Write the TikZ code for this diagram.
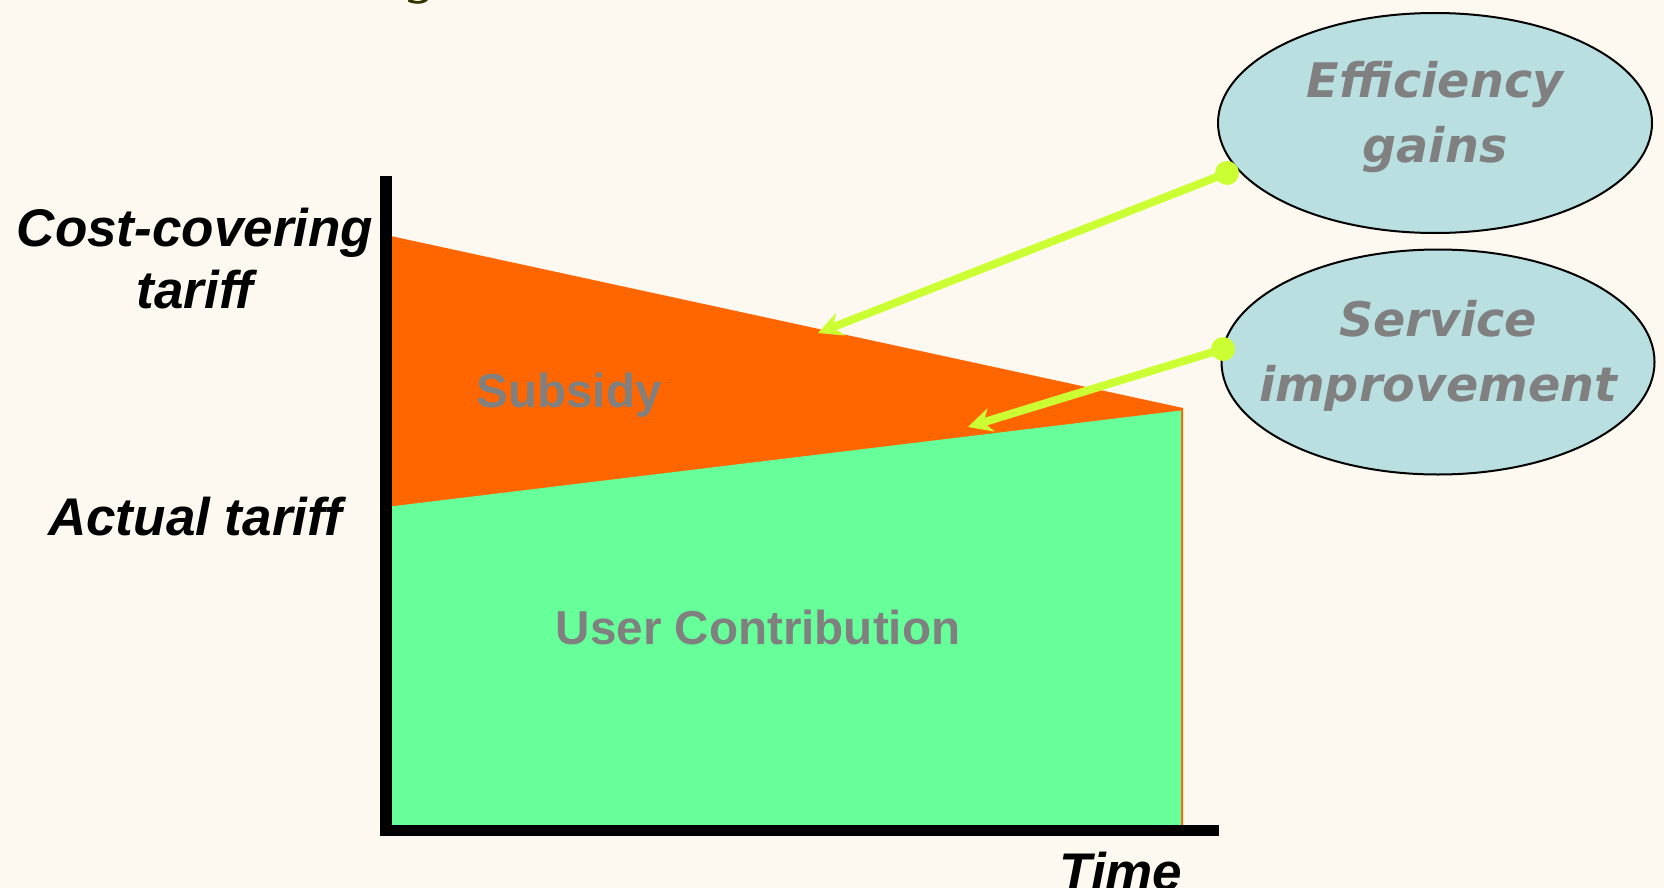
\documentclass[tikz,border=0pt]{standalone}
\usepackage{fontspec}
\setmainfont{Liberation Sans}
\newfontfamily\ovalfont{DejaVu Sans}[BoldFont={DejaVu Sans Bold}, ItalicFont={DejaVu Sans Oblique}, BoldItalicFont={DejaVu Sans Bold Oblique}]
\newfontfamily\titlefont{Liberation Serif}
\usetikzlibrary{shapes.geometric,arrows.meta}

\definecolor{paper}{RGB}{253,248,240}
\definecolor{subsidyOrange}{RGB}{255,102,0}
\definecolor{userGreen}{RGB}{102,255,153}
\definecolor{ovalBlue}{RGB}{185,223,225}
\definecolor{pointerLime}{RGB}{204,255,51}
\definecolor{labelGray}{RGB}{128,128,128}
\definecolor{titleOlive}{RGB}{51,51,0}

\tikzset{every picture/.style={x=0.5pt, y=-0.5pt},
        axisLine/.style={line width=5.75pt, black},
        axisLabel/.style={font=\fontsize{26.5}{31}\selectfont\bfseries\itshape, align=center, text=black},
        areaLabel/.style={font=\fontsize{23.8}{28}\selectfont\bfseries, text=labelGray, anchor=base},
        oval/.style={ellipse, draw=black, line width=1pt, fill=ovalBlue, inner sep=0pt},
        ovalText/.style={font=\ovalfont\fontsize{23.8}{32.5}\selectfont\bfseries\itshape, text=labelGray, align=center, yshift=3pt},
        dot/.style={circle, fill=pointerLime, inner sep=0pt, minimum size=12pt},
        pointer/.style={pointerLime, line width=4pt, -{Stealth[length=12pt, width=12pt, inset=4pt]}}}

\begin{document}
\begin{tikzpicture}

% background and page size
\fill[paper] (0,0) rectangle (1664,888);
\useasboundingbox (0,0) rectangle (1664,888);

% tail of the cut off title
\node[font=\titlefont\fontsize{30}{30}\selectfont\itshape, text=titleOlive, anchor=base] (titleG) at (423,-8) {g};

% draw areas
\fill[subsidyOrange] (386,235) -- (1183,408) -- (1183,826) -- (386,826) -- cycle;
\fill[userGreen] (386,507) -- (1181,410.5) -- (1181,826) -- (386,826) -- cycle;

% draw axis
\draw[axisLine] (386,176) -- (386,836);
\draw[axisLine] (385,830.5) -- (1219,830.5);

% axis labels
\node[axisLabel] (costTariff) at (195,259) {Cost-covering\\tariff};
\node[axisLabel, anchor=base] (actualTariff) at (195,535) {Actual tariff};
\node[axisLabel, anchor=base] (timeLabel) at (1121,890) {Time};

% area labels
\node[areaLabel] (subsidy) at (569,407) {Subsidy};
\node[areaLabel] (userContrib) at (758,644) {User Contribution};

% draw ovals
\node[oval, minimum width=217pt, minimum height=110pt] (eff) at (1435,123) {};
\node[ovalText] (effText) at (eff) {Efficiency\\gains};
\node[oval, minimum width=216.5pt, minimum height=112.5pt] (serv) at (1438,362) {};
\node[ovalText] (servText) at (serv) {Service\\improvement};

% draw pointers
\coordinate (effTip) at (818,333);
\coordinate (servTip) at (968,427);
\node[dot] (effDot) at (1227,173) {};
\node[dot] (servDot) at (1223,349) {};
\draw[pointer] (effDot.center) -- (effTip);
\draw[pointer] (servDot.center) -- (servTip);

\end{tikzpicture}
\end{document}
